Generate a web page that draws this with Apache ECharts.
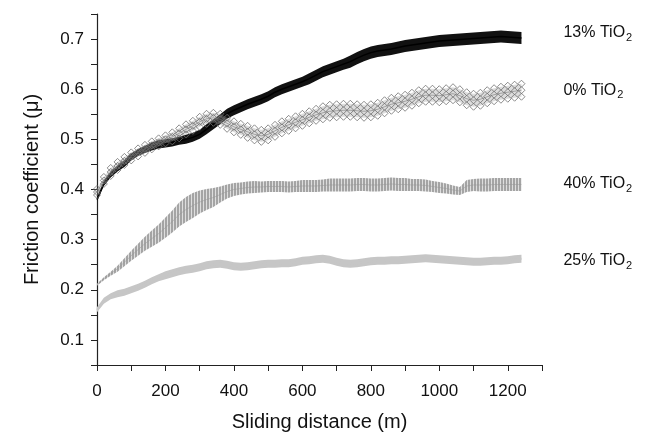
<!DOCTYPE html>
<html><head><meta charset="utf-8">
<script src="https://cdn.jsdelivr.net/npm/echarts@6/dist/echarts.min.js"></script>
<style>html,body{margin:0;padding:0;background:#fff}#c{width:650px;height:433px}</style>
</head><body><div id="c"></div>
<script>
// Sliding distance samples (m)
const distance = [
0,20,40,60,80,100,120,140,160,180,
200,220,240,260,280,300,320,340,360,380,
400,420,440,460,480,500,520,540,560,580,
600,620,640,660,680,700,720,740,760,780,
800,820,840,860,880,900,920,940,960,980,
1000,1020,1040,1060,1080,1100,1120,1140,1160,1180,
1200,1220,1240];

// 13% TiO2 : band centre and half-width
const tio13Mean = [
0.380,0.412,0.430,0.442,0.452,0.465,0.474,0.480,0.486,0.490,
0.492,0.494,0.497,0.500,0.504,0.510,0.520,0.530,0.540,0.551,
0.558,0.564,0.570,0.575,0.580,0.586,0.594,0.600,0.605,0.610,
0.615,0.621,0.628,0.635,0.640,0.645,0.650,0.655,0.662,0.668,
0.673,0.676,0.678,0.680,0.683,0.686,0.688,0.690,0.692,0.694,
0.696,0.697,0.698,0.699,0.700,0.701,0.702,0.703,0.704,0.705,
0.704,0.703,0.702];
const tio13Spread = [
0.004,0.005,0.006,0.006,0.007,0.007,0.007,0.007,0.008,0.008,
0.008,0.008,0.008,0.009,0.009,0.009,0.010,0.010,0.010,0.010,
0.010,0.010,0.010,0.010,0.010,0.010,0.010,0.010,0.010,0.010,
0.010,0.011,0.011,0.011,0.011,0.011,0.011,0.012,0.012,0.012,
0.012,0.012,0.012,0.012,0.012,0.012,0.012,0.012,0.012,0.012,
0.012,0.012,0.012,0.012,0.012,0.012,0.012,0.012,0.012,0.012,
0.012,0.012,0.012];

// 0% TiO2
const tio0Mean = [
0.395,0.418,0.435,0.447,0.457,0.466,0.474,0.481,0.488,0.494,
0.500,0.505,0.512,0.520,0.527,0.535,0.541,0.543,0.540,0.532,
0.525,0.520,0.515,0.510,0.507,0.510,0.517,0.524,0.529,0.534,
0.539,0.544,0.549,0.553,0.556,0.557,0.558,0.558,0.557,0.556,
0.557,0.560,0.565,0.570,0.573,0.576,0.580,0.585,0.588,0.588,
0.587,0.589,0.591,0.587,0.581,0.578,0.580,0.585,0.589,0.592,
0.594,0.596,0.598];
const tio0Spread = [
0.006,0.007,0.008,0.008,0.008,0.008,0.008,0.008,0.008,0.008,
0.008,0.009,0.010,0.010,0.010,0.010,0.010,0.010,0.011,0.011,
0.011,0.011,0.012,0.012,0.012,0.012,0.012,0.012,0.012,0.012,
0.012,0.012,0.012,0.013,0.013,0.013,0.013,0.013,0.013,0.013,
0.013,0.013,0.013,0.013,0.013,0.013,0.013,0.013,0.013,0.013,
0.013,0.013,0.013,0.013,0.013,0.013,0.013,0.013,0.013,0.013,
0.013,0.013,0.013];

// 40% TiO2
const tio40Mean = [
0.210,0.222,0.232,0.242,0.255,0.268,0.280,0.292,0.302,0.312,
0.324,0.336,0.350,0.360,0.368,0.375,0.380,0.384,0.390,0.396,
0.400,0.402,0.404,0.405,0.405,0.406,0.406,0.406,0.405,0.406,
0.407,0.407,0.407,0.408,0.409,0.409,0.409,0.409,0.410,0.410,
0.409,0.409,0.410,0.411,0.410,0.410,0.409,0.409,0.408,0.406,
0.404,0.402,0.399,0.397,0.407,0.409,0.409,0.409,0.410,0.410,
0.410,0.410,0.410];
const tio40Spread = [
0.002,0.003,0.004,0.006,0.008,0.010,0.012,0.014,0.016,0.018,
0.020,0.022,0.024,0.025,0.025,0.023,0.021,0.019,0.016,0.014,
0.013,0.012,0.012,0.012,0.011,0.011,0.011,0.011,0.011,0.011,
0.012,0.012,0.012,0.012,0.013,0.013,0.013,0.013,0.013,0.013,
0.013,0.013,0.013,0.013,0.013,0.013,0.012,0.012,0.012,0.011,
0.011,0.010,0.009,0.008,0.012,0.012,0.013,0.013,0.013,0.013,
0.013,0.013,0.013];

// 25% TiO2
const tio25Mean = [
0.160,0.178,0.187,0.192,0.195,0.200,0.205,0.211,0.218,0.224,
0.229,0.233,0.237,0.240,0.242,0.245,0.249,0.251,0.252,0.250,
0.247,0.246,0.247,0.249,0.251,0.252,0.252,0.253,0.253,0.255,
0.258,0.259,0.261,0.262,0.260,0.256,0.253,0.252,0.253,0.255,
0.257,0.258,0.258,0.259,0.259,0.260,0.261,0.262,0.263,0.262,
0.261,0.260,0.259,0.258,0.257,0.256,0.256,0.257,0.258,0.258,
0.259,0.261,0.262];
const tio25Spread = [
0.005,0.006,0.006,0.007,0.007,0.007,0.007,0.007,0.007,0.007,
0.008,0.008,0.008,0.008,0.008,0.008,0.008,0.008,0.008,0.008,
0.008,0.008,0.008,0.008,0.008,0.008,0.008,0.008,0.008,0.008,
0.008,0.008,0.008,0.008,0.008,0.008,0.008,0.008,0.008,0.008,
0.008,0.008,0.008,0.008,0.008,0.008,0.008,0.008,0.008,0.008,
0.008,0.008,0.008,0.008,0.008,0.008,0.008,0.008,0.008,0.008,
0.008,0.008,0.008];

const seriesNames = ['13% TiO', '0% TiO', '40% TiO', '25% TiO'];
const subscript = '2';
const xTicks = [0,200,400,600,800,1000,1200];
const yTicks = [0.1,0.2,0.3,0.4,0.5,0.6,0.7];

const FONT = 'Liberation Sans, Arial, Helvetica, sans-serif';

// vertical hatch pattern for the oscillating 40% trace
const hatch = document.createElement('canvas');
hatch.width = 3; hatch.height = 8;
(function(){ const g = hatch.getContext('2d');
  g.fillStyle = '#dedede'; g.fillRect(0,0,3,8);
  g.fillStyle = '#a4a4a4'; g.fillRect(0,0,2,8); })();

function pairs(ys){ return distance.map((d,i)=>[d, ys[i]]); }
function upper(m,s){ return distance.map((d,i)=>[d, m[i]+s[i]]); }
function lower(m,s){ return distance.map((d,i)=>[d, m[i]-s[i]]); }

// band drawn as one polygon through the axis scales
function band(mean, spread, fill, opacity, z){
  return {type:'custom', z:z, silent:true,
    data: distance.map((d,i)=>[d, mean[i]-spread[i], mean[i]+spread[i]]),
    encode:{x:0, y:[1,2]},
    renderItem:(params, api)=>{
      if (params.dataIndex !== 0) return null;
      const pts = [];
      for (let i=0;i<distance.length;i++) pts.push(api.coord([distance[i], mean[i]+spread[i]]));
      for (let i=distance.length-1;i>=0;i--) pts.push(api.coord([distance[i], mean[i]-spread[i]]));
      return {type:'polygon', shape:{points:pts}, style:{fill:fill, opacity:opacity}};
    }};
}
function centre(name, mean, color, lw, dy, z){
  return {type:'line', name:name, data:pairs(mean), symbol:'none', z:z,
    lineStyle:{color:color, width:lw},
    endLabel:{show:true, distance:42, offset:[0,dy],
      formatter:'{t|'+name+'}{s|'+subscript+'}',
      rich:{t:{fontSize:16, color:'#111', fontFamily:FONT},
            s:{fontSize:11, color:'#111', fontFamily:FONT, padding:[10,0,0,1]}}}};
}

const series = [
  band(tio25Mean, tio25Spread, '#c6c6c6', 1, 2),
  centre(seriesNames[3], tio25Mean, '#c6c6c6', 2, 2, 2),
  band(tio40Mean, tio40Spread, {image:hatch, repeat:'repeat'}, 1, 3),
  centre(seriesNames[2], tio40Mean, 'rgba(150,150,150,0.5)', 1, -1, 3),
  band(tio13Mean, tio13Spread, '#111111', 1, 4),
  centre(seriesNames[0], tio13Mean, '#000', 1.5, -5, 4),
  band(tio0Mean, tio0Spread, '#9a9a9a', 0.35, 5),
  centre(seriesNames[1], tio0Mean, 'rgba(120,120,120,0.6)', 1, 0, 5),
  {type:'scatter', data:[].concat(upper(tio0Mean,tio0Spread), pairs(tio0Mean), lower(tio0Mean,tio0Spread)),
    symbol:'diamond', symbolSize:7, z:6, silent:true,
    itemStyle:{color:'rgba(255,255,255,0)', borderColor:'#707070', borderWidth:1}}
];

const chart = echarts.init(document.getElementById('c'), null, {renderer:'canvas'});
chart.setOption({
  animation:false,
  backgroundColor:'#fff',
  grid:{left:97, right:108, top:14, bottom:68, containLabel:false, outerBoundsMode:'none'},
  xAxis:{type:'value', min:0, max:1300, interval:100,
    name:'Sliding distance (m)', nameLocation:'middle', nameGap:47,
    nameTextStyle:{fontSize:20, color:'#111', fontFamily:FONT},
    axisLine:{show:true, lineStyle:{color:'#222', width:1.2}},
    axisTick:{show:true, length:6, lineStyle:{color:'#222'}},
    axisLabel:{fontSize:17, color:'#111', fontFamily:FONT, margin:18,
      formatter:v=> xTicks.indexOf(v)>=0 ? String(v) : ''},
    splitLine:{show:false}},
  yAxis:{type:'value', min:0.05, max:0.75, interval:0.05,
    name:'Friction coefficient (\u03bc)', nameLocation:'middle', nameGap:55,
    nameTextStyle:{fontSize:20, color:'#111', fontFamily:FONT},
    axisLine:{show:true, lineStyle:{color:'#222', width:1.2}},
    axisTick:{show:true, length:6, lineStyle:{color:'#222'}},
    axisLabel:{fontSize:17, color:'#111', fontFamily:FONT, margin:13,
      formatter:v=>{ const t = yTicks.find(y=>Math.abs(y-v)<1e-6); return t!==undefined ? t.toFixed(1) : ''; }},
    splitLine:{show:false}},
  series:series
});
</script></body></html>
